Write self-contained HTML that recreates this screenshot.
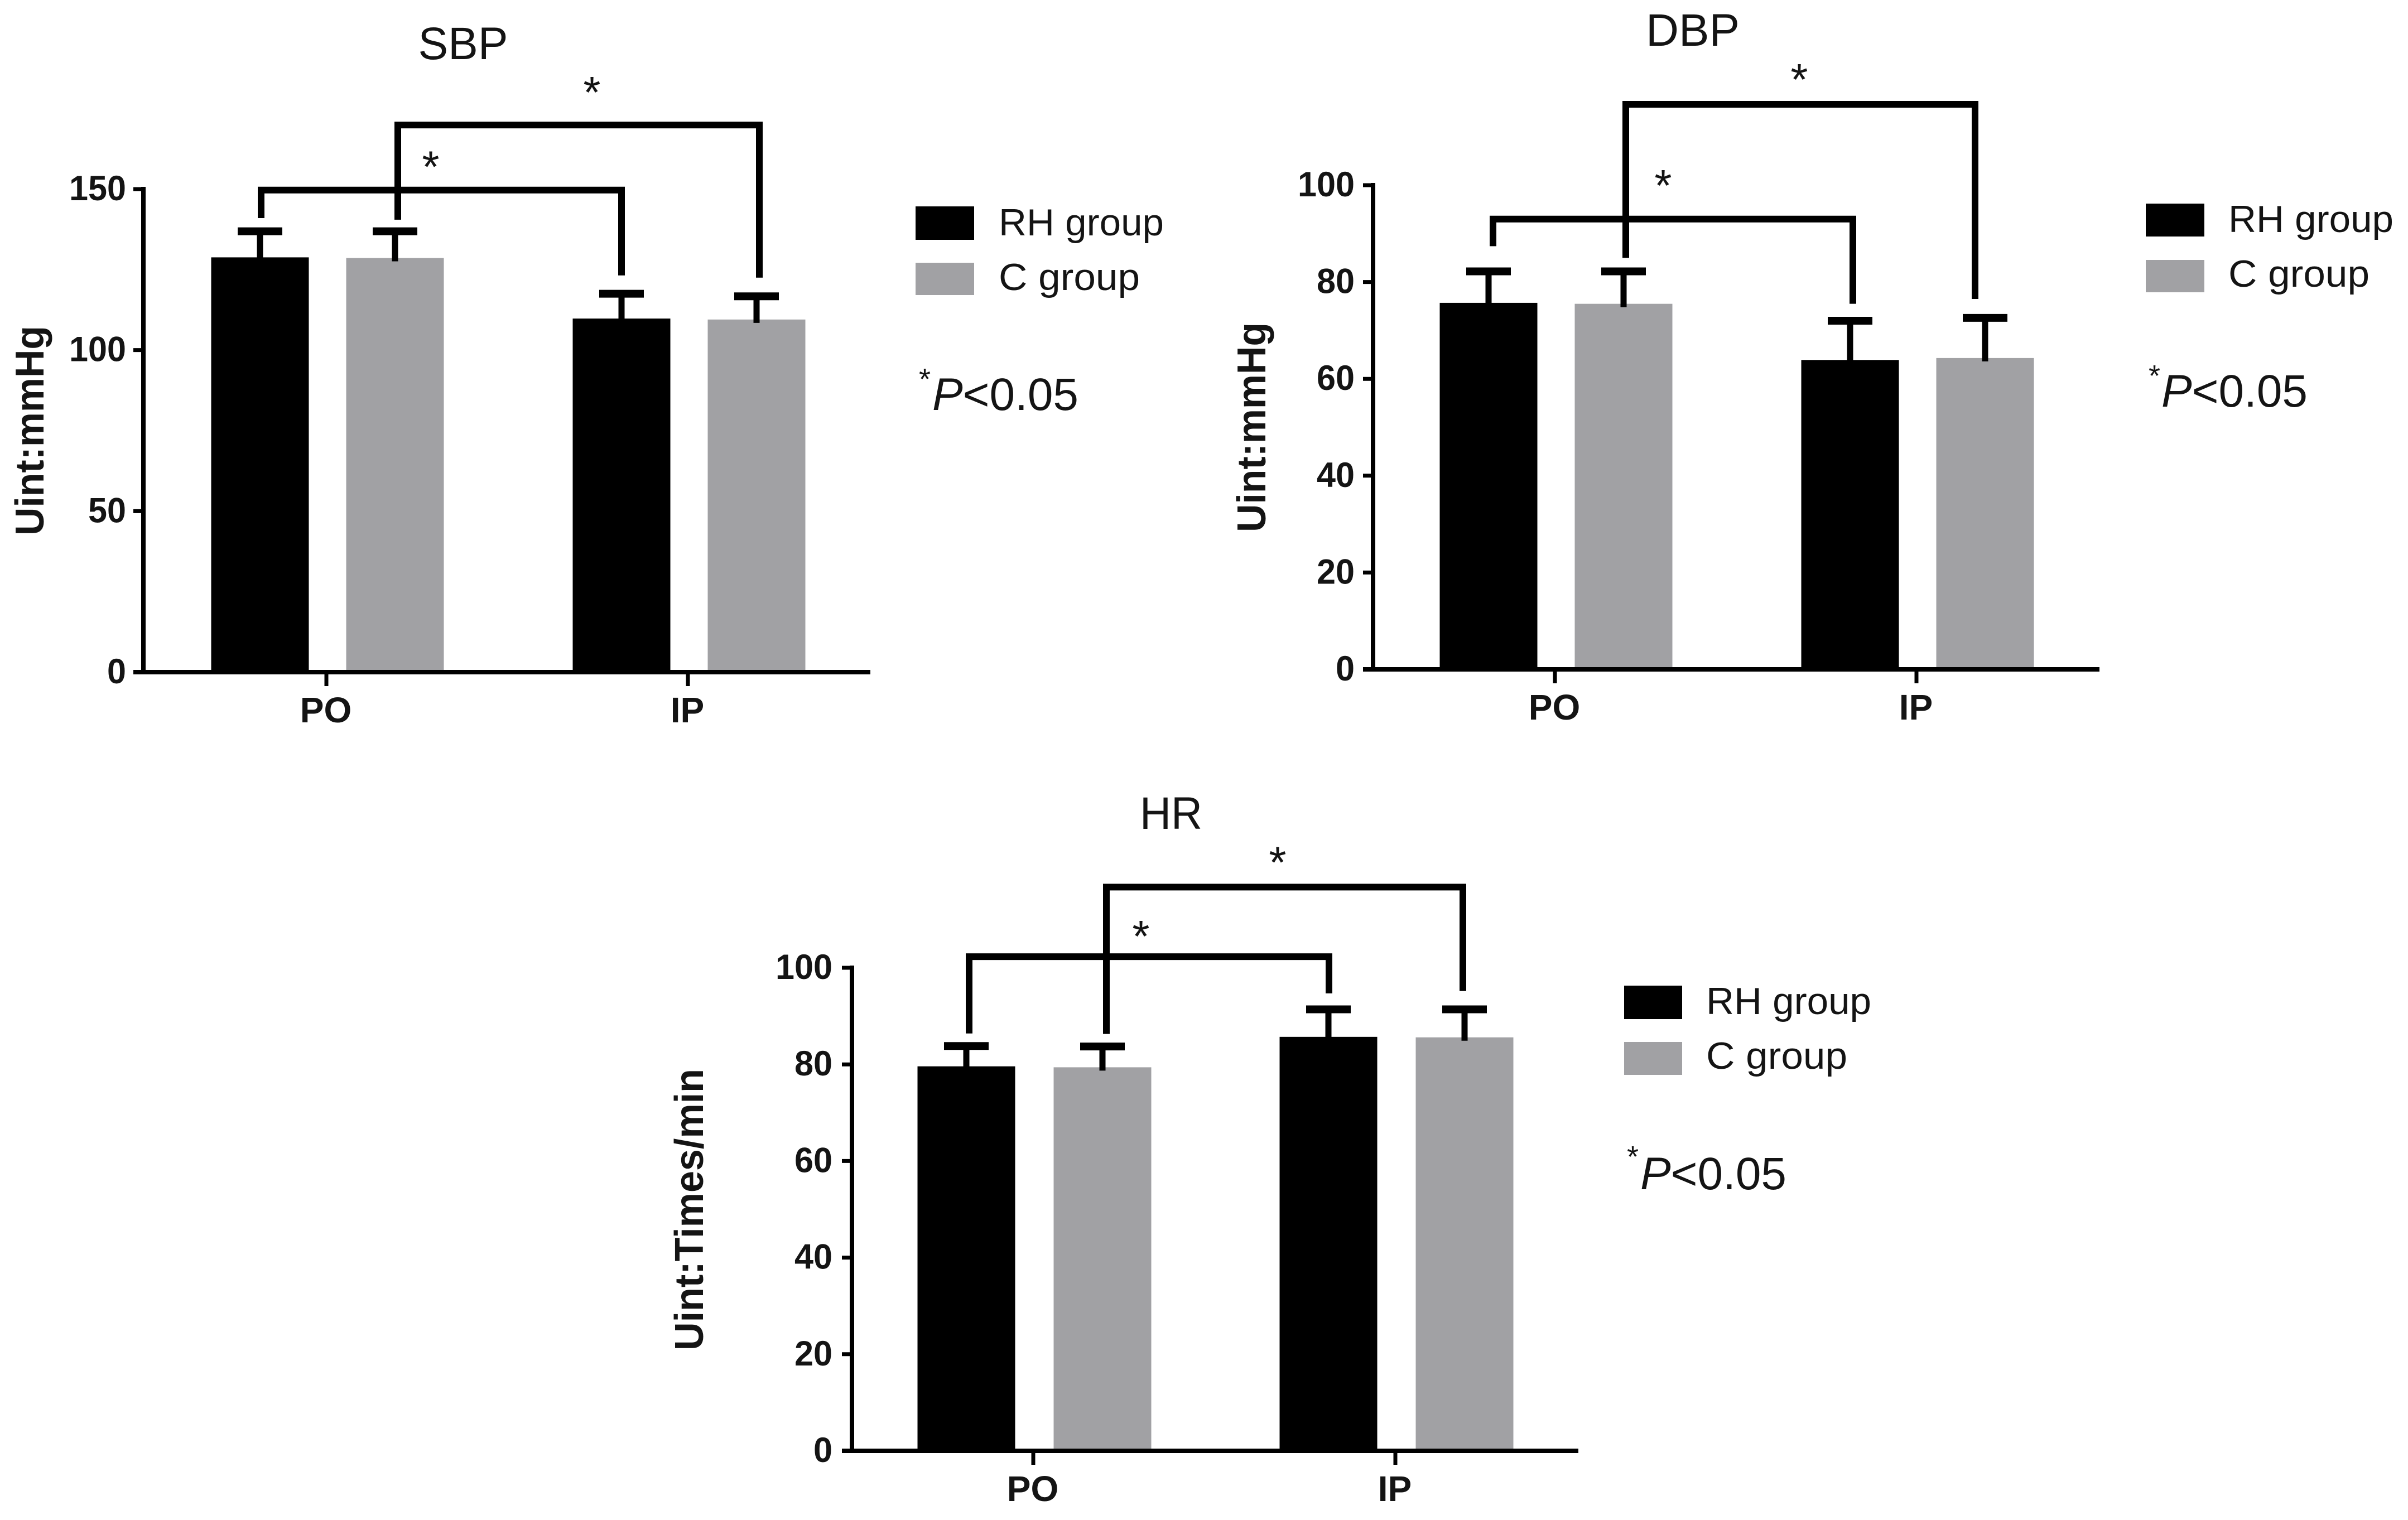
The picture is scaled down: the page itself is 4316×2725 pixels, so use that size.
<!DOCTYPE html>
<html lang="en">
<head>
<meta charset="utf-8">
<title>SBP, DBP and HR by group</title>
<style>
html,body{margin:0;padding:0;background:#fff;}
svg{display:block;}
text{font-family:"Liberation Sans",sans-serif;fill:#141414;}
.title{font-size:82px;}
.legend{font-size:68px;}
.pv{font-size:82px;}
.ytitle{font-size:72px;font-weight:bold;}
</style>
</head>
<body>
<svg id="figure" xmlns="http://www.w3.org/2000/svg" width="4316" height="2725" viewBox="0 0 4316 2725">
  <rect x="0" y="0" width="4316" height="2725" fill="#ffffff"/>

  <g id="chart-sbp">
    <text class="title" x="830" y="106" text-anchor="middle" textLength="161" lengthAdjust="spacingAndGlyphs">SBP</text>
    <text class="ytitle" transform="translate(78,960) rotate(-90)" textLength="376" lengthAdjust="spacingAndGlyphs">Uint:mmHg</text>
    <rect x="1641" y="370" width="105" height="60" fill="#000"/>
    <text class="legend" x="1790" y="422" textLength="296" lengthAdjust="spacingAndGlyphs">RH group</text>
    <rect x="1641" y="471" width="105" height="58" fill="#a1a1a4"/>
    <text class="legend" x="1790" y="520" textLength="253" lengthAdjust="spacingAndGlyphs">C group</text>
    <text font-size="54" x="1647" y="698">*</text>
    <text class="pv" x="1671" y="735" textLength="262" lengthAdjust="spacingAndGlyphs"><tspan font-style="italic">P</tspan>&lt;0.05</text>
  </g>

  <g id="chart-dbp">
    <text class="title" x="3034" y="82" text-anchor="middle" textLength="168" lengthAdjust="spacingAndGlyphs">DBP</text>
    <text class="ytitle" transform="translate(2268,954) rotate(-90)" textLength="376" lengthAdjust="spacingAndGlyphs">Uint:mmHg</text>
    <rect x="3846" y="365" width="105" height="59" fill="#000"/>
    <text class="legend" x="3994" y="416" textLength="296" lengthAdjust="spacingAndGlyphs">RH group</text>
    <rect x="3846" y="466" width="105" height="58" fill="#a1a1a4"/>
    <text class="legend" x="3994" y="514" textLength="253" lengthAdjust="spacingAndGlyphs">C group</text>
    <text font-size="54" x="3851" y="692">*</text>
    <text class="pv" x="3874" y="729" textLength="262" lengthAdjust="spacingAndGlyphs"><tspan font-style="italic">P</tspan>&lt;0.05</text>
  </g>

  <g id="chart-hr">
    <text class="title" x="2099" y="1486" text-anchor="middle" textLength="112" lengthAdjust="spacingAndGlyphs">HR</text>
    <text class="ytitle" transform="translate(1260,2421) rotate(-90)" textLength="505" lengthAdjust="spacingAndGlyphs">Uint:Times/min</text>
    <rect x="2911" y="1767" width="104" height="60" fill="#000"/>
    <text class="legend" x="3058" y="1818" textLength="296" lengthAdjust="spacingAndGlyphs">RH group</text>
    <rect x="2911" y="1868" width="104" height="59" fill="#a1a1a4"/>
    <text class="legend" x="3058" y="1916" textLength="253" lengthAdjust="spacingAndGlyphs">C group</text>
    <text font-size="54" x="2916" y="2092">*</text>
    <text class="pv" x="2940" y="2132" textLength="262" lengthAdjust="spacingAndGlyphs"><tspan font-style="italic">P</tspan>&lt;0.05</text>
  </g>
</svg>
<script>
const categories = ['PO', 'IP'];

const sbpTicks = [0, 50, 100, 150];
const sbpRH = [128.8, 109.8];
const sbpC = [128.6, 109.5];
const sbpRHUpper = [136.9, 117.5];
const sbpCUpper = [136.9, 116.7];
const sbpBracketLevels = [149.7, 169.9];
const sbpBracketStarts = [141, 140.5];
const sbpBracketEnds = [123.2, 122.5];

const dbpTicks = [0, 20, 40, 60, 80, 100];
const dbpRH = [75.7, 63.9];
const dbpC = [75.5, 64.3];
const dbpRHUpper = [82.2, 72.0];
const dbpCUpper = [82.2, 72.6];
const dbpBracketLevels = [93, 116.7];
const dbpBracketStarts = [87.4, 85];
const dbpBracketEnds = [75.5, 76.5];

const hrTicks = [0, 20, 40, 60, 80, 100];
const hrRH = [79.6, 85.7];
const hrC = [79.4, 85.6];
const hrRHUpper = [83.8, 91.4];
const hrCUpper = [83.7, 91.4];
const hrBracketLevels = [102.3, 116.7];
const hrBracketStarts = [86.4, 86.3];
const hrBracketEnds = [94.7, 95.2];

const NS = 'http://www.w3.org/2000/svg';

function mk(parent, tag, attrs, content) {
  const el = document.createElementNS(NS, tag);
  for (const k in attrs) el.setAttribute(k, attrs[k]);
  if (content !== undefined) el.textContent = content;
  parent.appendChild(el);
  return el;
}

function drawChart(id, cfg, ticks, rh, c, rhUp, cUp, levels, starts, ends) {
  const root = document.getElementById(id);
  const maxTick = ticks[ticks.length - 1];
  const yScale = function (v) { return cfg.y0 - v * (cfg.y0 - cfg.yTop) / maxTick; };
  const groupX = function (i) { return cfg.group0 + i * cfg.step; };
  const barX = function (group, series) { return groupX(group) + (series === 0 ? -cfg.offset : cfg.offset); };

  const seriesValues = [rh, c];
  const seriesUpper = [rhUp, cUp];
  const seriesFill = ['#000000', '#a1a1a4'];

  categories.forEach(function (cat, g) {
    seriesValues.forEach(function (vals, s) {
      const cx = barX(g, s);
      const top = yScale(vals[g]);
      const upper = yScale(seriesUpper[s][g]);
      const bar = mk(root, 'rect', { x: cx - 87.5, y: top, width: 175, height: cfg.y0 - top, fill: seriesFill[s] });
      
      
      const stem = mk(root, 'line', { x1: cx, x2: cx, y1: upper, y2: top + 6, stroke: '#000', 'stroke-width': 11 });
      
      
      const cap = mk(root, 'line', { x1: cx - 40, x2: cx + 40, y1: upper, y2: upper, stroke: '#000', 'stroke-width': 14 });
      
      
    });
  });

  const yAxis = mk(root, 'line', { x1: cfg.axisX, x2: cfg.axisX, y1: yScale(maxTick) - 4, y2: cfg.y0 + 4, stroke: '#000', 'stroke-width': 8 });
  
  
  const xAxis = mk(root, 'line', { x1: cfg.axisX - 18, x2: cfg.right, y1: cfg.y0, y2: cfg.y0, stroke: '#000', 'stroke-width': 8 });
  
  

  ticks.forEach(function (t) {
    const y = yScale(t);
    if (t !== 0) {
      const tick = mk(root, 'line', { x1: cfg.axisX - 18, x2: cfg.axisX, y1: y, y2: y, stroke: '#000', 'stroke-width': 7 });
      
      
    }
    const text = String(t);
    const label = mk(root, 'text', { x: cfg.labelRight, y: y + 20, 'text-anchor': 'end', 'font-size': 63, 'font-weight': 'bold', textLength: text.length * 34, lengthAdjust: 'spacingAndGlyphs' }, text);
    
    
  });

  categories.forEach(function (cat, g) {
    const x = groupX(g);
    const tick = mk(root, 'line', { x1: x - 2, x2: x - 2, y1: cfg.y0, y2: cfg.y0 + 25, stroke: '#000', 'stroke-width': 7 });
    
    
    const label = mk(root, 'text', { x: x - 3, y: cfg.y0 + 90, 'text-anchor': 'middle', 'font-size': 64, 'font-weight': 'bold' }, cat);
    
    
  });

  levels.forEach(function (level, s) {
    const x1 = barX(0, s) + cfg.bracketStartDx[s];
    const x2 = barX(1, s) + cfg.bracketEndDx[s];
    const yl = yScale(level);
    const points = x1 + ',' + yScale(starts[s]) + ' ' + x1 + ',' + yl + ' ' + x2 + ',' + yl + ' ' + x2 + ',' + yScale(ends[s]);
    const bracket = mk(root, 'polyline', { points: points, fill: 'none', stroke: '#000', 'stroke-width': 12 });
    
    
    const star = mk(root, 'text', { x: cfg.starX[s], y: yl + cfg.starDy[s], 'text-anchor': 'middle', 'font-size': 80 }, '*');
    
    
  });
}

drawChart('chart-sbp',
  { y0: 1205, yTop: 339, axisX: 257, right: 1560, labelRight: 226, group0: 587, step: 648, offset: 121, bracketStartDx: [2, 5], bracketEndDx: [0, 5], starX: [772, 1061], starDy: [-14, -31] },
  sbpTicks, sbpRH, sbpC, sbpRHUpper, sbpCUpper, sbpBracketLevels, sbpBracketStarts, sbpBracketEnds);

drawChart('chart-dbp',
  { y0: 1200, yTop: 332, axisX: 2461, right: 3763, labelRight: 2428, group0: 2789, step: 648, offset: 121, bracketStartDx: [8, 4], bracketEndDx: [5, -18], starX: [2981, 3225], starDy: [-33, -17] },
  dbpTicks, dbpRH, dbpC, dbpRHUpper, dbpCUpper, dbpBracketLevels, dbpBracketStarts, dbpBracketEnds);

drawChart('chart-hr',
  { y0: 2601, yTop: 1735, axisX: 1527, right: 2829, labelRight: 1492, group0: 1854, step: 649, offset: 122, bracketStartDx: [5, 7], bracketEndDx: [1, -3], starX: [2045, 2290], starDy: [-9, -17] },
  hrTicks, hrRH, hrC, hrRHUpper, hrCUpper, hrBracketLevels, hrBracketStarts, hrBracketEnds);
</script>
</body>
</html>
